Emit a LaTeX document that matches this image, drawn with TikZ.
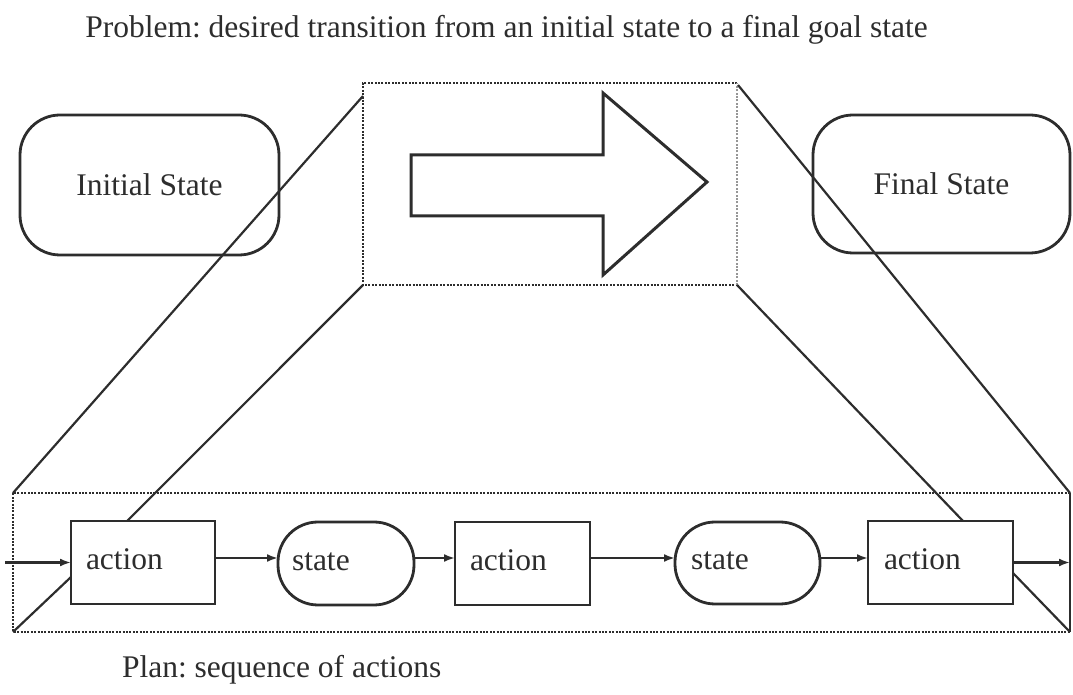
\documentclass[tikz,border=0pt]{standalone}
\usepackage{fontspec}
\setmainfont{Liberation Serif}
\usetikzlibrary{arrows.meta,calc}
\definecolor{ink}{RGB}{45,45,45}
\definecolor{faint}{RGB}{150,150,150}
% lengths are given in drawing units: one unit is half a point
\newcommand\pxl[1]{#1*0.5pt}
\frenchspacing

\begin{document}
\begin{tikzpicture}[x=0.5pt,y=-0.5pt,
  every node/.style={inner sep=0pt, outer sep=0pt},
  lbl/.style={font=\fontsize{15.75pt}{18pt}\selectfont, text=ink},
  bigstate/.style={draw=ink, line width=1.4pt, rounded corners=20pt, lbl},
  actbox/.style={draw=ink, line width=1.4pt},
  stbox/.style={draw=ink, line width=1.4pt, rounded corners=20pt},
  frameline/.style={draw=ink, line width=1pt, dash pattern=on 1pt off 0.7pt},
  guide/.style={draw=ink, line width=1.1pt},
  flow/.style={draw=ink, line width=1.2pt, -{Latex[length=5.5pt,width=4pt]}},
]
\useasboundingbox (0,0) rectangle (1073,695);

% captions
\node[lbl, anchor=base] (title) at (506.5,38)
  {Problem: desired transition from an initial state to a final goal state};
\node[lbl, anchor=base west] (plan) at (122,678) {Plan: sequence of actions};

% start and goal
\node[bigstate, minimum width=\pxl{259}, minimum height=\pxl{140}] (init) at (149.5,185) {Initial State};
\node[bigstate, minimum width=\pxl{257}, minimum height=\pxl{138}] (final) at (941.5,184) {Final State};

% the transition window with its block arrow
\node[minimum width=\pxl{374}, minimum height=\pxl{202}] (dr) at (550,184) {};
\draw[frameline] (dr.north east) -- (dr.north west) -- (dr.south west) -- (dr.south east);
\draw[frameline, draw=faint] (dr.south east) -- (dr.north east);
\draw[ink, line width=1.5pt, line join=miter]
  (411,155) -- (603,155) -- (603,93) -- (707,182) -- (603,275) -- (603,216) -- (411,216) -- cycle;

% the plan window
\node[minimum width=\pxl{1057}, minimum height=\pxl{139}] (br) at (541.5,562.5) {};
\draw[frameline] (br.north east) -- (br.north west) -- (br.south west) -- (br.south east);
\draw[guide] (br.south east) -- (br.north east);

% plan steps
\node[actbox, minimum width=\pxl{144}, minimum height=\pxl{83}] (a1) at (143,562.5) {};
\node[stbox,  minimum width=\pxl{136}, minimum height=\pxl{83}] (s1) at (346,563.5) {};
\node[actbox, minimum width=\pxl{135}, minimum height=\pxl{83}] (a2) at (522.5,563.5) {};
\node[stbox,  minimum width=\pxl{145}, minimum height=\pxl{82}] (s2) at (747.5,563) {};
\node[actbox, minimum width=\pxl{145}, minimum height=\pxl{83}] (a3) at (940.5,562.5) {};

\node[lbl, anchor=base west] (t1) at ([shift={(15,7.5)}]a1.west) {action};
\node[lbl, anchor=base west] (t2) at ([shift={(14,7.5)}]s1.west) {state};
\node[lbl, anchor=base west] (t3) at ([shift={(15,7)}]a2.west) {action};
\node[lbl, anchor=base west] (t4) at ([shift={(16,7)}]s2.west) {state};
\node[lbl, anchor=base west] (t5) at ([shift={(16,7.5)}]a3.west) {action};

% projection lines from the transition window onto the plan
\draw[guide] ([shift={(0,13)}]dr.north west) -- (br.north west);
\draw[guide] (dr.south west) -- ($(a1.north west)!0.39!(a1.north east)$);
\draw[guide] ([shift={(1,2)}]dr.north east) -- (br.north east);
\draw[guide] (dr.south east) -- ($(a3.north west)!0.655!(a3.north east)$);
\draw[guide] (br.south west) -- ($(a1.north west)!0.675!(a1.south west)$);
\draw[guide] (br.south east) -- ($(a3.north east)!0.627!(a3.south east)$);

% flow through the plan
\coordinate (in) at (5,562.5);
\coordinate (out) at (1070,562.5);
\draw[flow] (in) -- (a1.west);
\draw[flow] ([shift={(0,-4.5)}]a1.east) -- ([shift={(0,-4.5)}]a1.east -| s1.west);
\draw[flow] ([shift={(0,-5.5)}]s1.east) -- ([shift={(0,-5.5)}]s1.east -| a2.west);
\draw[flow] ([shift={(0,-5.5)}]a2.east) -- ([shift={(0,-5.5)}]a2.east -| s2.west);
\draw[flow] ([shift={(0,-5)}]s2.east) -- ([shift={(0,-5)}]s2.east -| a3.west);
\draw[flow] (a3.east) -- (out);
\end{tikzpicture}
\end{document}
